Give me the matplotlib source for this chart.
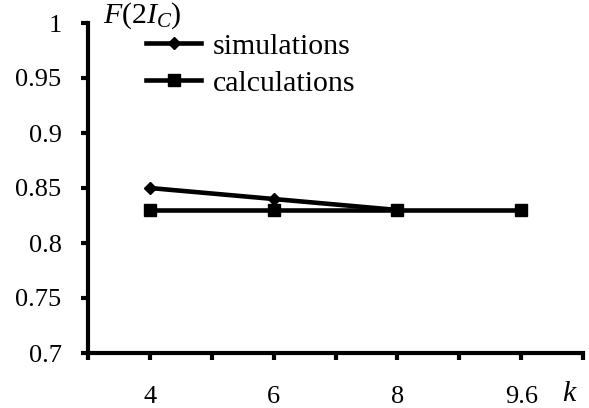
import numpy as np
import matplotlib
matplotlib.use("Agg")
import matplotlib.pyplot as plt

plt.rcParams["font.family"] = ["Liberation Serif", "DejaVu Serif"]
plt.rcParams["mathtext.fontset"] = "custom"
plt.rcParams["mathtext.rm"] = "Liberation Serif"
plt.rcParams["mathtext.it"] = "Liberation Serif:italic"

# data
k_labels = ["4", "6", "8", "9.6"]
simulations = [0.85, 0.84, 0.83]
calculations = [0.83, 0.83, 0.83, 0.83]

FS = 19      # tick labels
FS_BIG = 21.5  # legend and axis titles

fig = plt.figure(figsize=(5.89, 4.08), dpi=100)
ax = fig.add_axes([88 / 589, 1 - 353 / 408, (583 - 88) / 589, (353 - 23) / 408])

x = np.arange(len(k_labels))
ax.plot(x[:len(simulations)], simulations, "-D", color="black", lw=3.3, ms=6,
        label="simulations")
ax.plot(x, calculations, "-s", color="black", lw=3.3, ms=9, label="calculations")

ax.set_xlim(-0.5, len(k_labels) - 0.5)
ax.set_ylim(0.7, 1.0)
ax.set_yticks(np.arange(0.7, 1.001, 0.05))
ax.set_yticklabels(["0.7", "0.75", "0.8", "0.85", "0.9", "0.95", "1"], fontsize=FS)
ax.set_xticks(x)
ax.set_xticklabels(k_labels, fontsize=FS)
ax.set_xticks(np.arange(-0.5, len(k_labels)), minor=True)

for s in ["top", "right"]:
    ax.spines[s].set_visible(False)
for s in ["left", "bottom"]:
    ax.spines[s].set_linewidth(3)
ax.tick_params(axis="y", direction="out", length=5, width=3, pad=14)
ax.tick_params(axis="x", which="both", direction="out", length=5, width=3, pad=19)

fig.text(103 / 589, 1 - 23 / 408, r"$F(2I_C)$", fontsize=FS_BIG, ha="left", va="baseline")
fig.text(562 / 589, 1 - 394 / 408, r"$k$", fontsize=FS_BIG, ha="left", va="center")

ax.legend(loc="upper left", bbox_to_anchor=(146 / 589, 1 - 33 / 408),
          bbox_transform=fig.transFigure, frameon=False, fontsize=FS_BIG,
          borderpad=0, borderaxespad=0, handlelength=1.85, handletextpad=0.4,
          labelspacing=0.33)

fig.savefig("out.png", dpi=100)
